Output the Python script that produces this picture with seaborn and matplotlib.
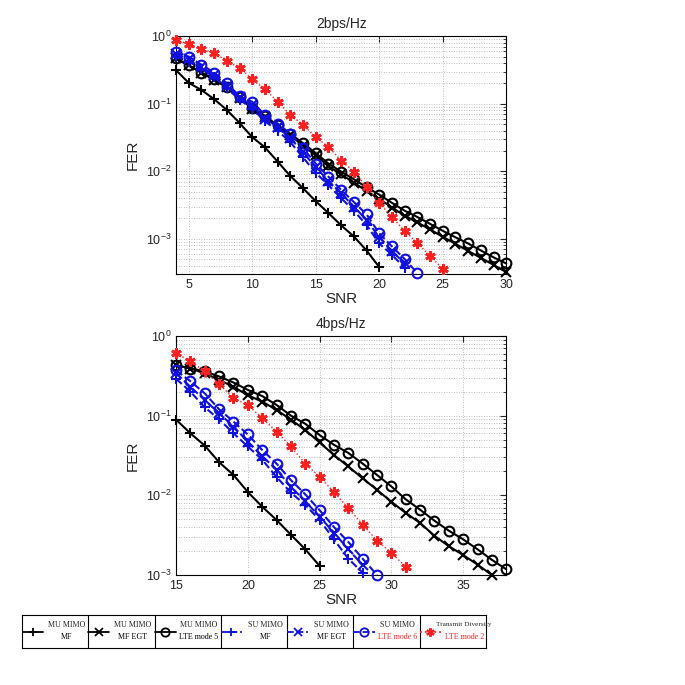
import numpy as np
import pandas as pd
import matplotlib
matplotlib.use("Agg")
import matplotlib.pyplot as plt
import seaborn as sns

# ---- top panel: 2bps/Hz ----
snr_a = list(range(4, 31))
mu_mf_a = [0.315, 0.204, 0.16, 0.117, 0.081, 0.052, 0.032, 0.0226, 0.0139, 0.0085,
           0.0056, 0.0036, 0.0024, 0.00158, 0.00108, 0.00067, 0.00038]
mu_egt_a = [0.47, 0.37, 0.29, 0.225, 0.175, 0.122, 0.085, 0.063, 0.045, 0.034,
            0.024, 0.0172, 0.0119, 0.009, 0.0068, 0.0051, 0.0039, 0.0029, 0.0022,
            0.00175, 0.00137, 0.00107, 0.00084, 0.00066, 0.00052, 0.00041, 0.00032]
mu_lte5_a = [0.47, 0.37, 0.29, 0.23, 0.18, 0.127, 0.088, 0.066, 0.048, 0.036,
             0.026, 0.0186, 0.013, 0.0099, 0.0076, 0.0058, 0.0045, 0.0034, 0.0026,
             0.0021, 0.00166, 0.00131, 0.00105, 0.00085, 0.00067, 0.00053, 0.00043]
su_mf_a = [0.50, 0.42, 0.33, 0.25, 0.17, 0.115, 0.085, 0.055, 0.04, 0.027, 0.016,
           0.0095, 0.0062, 0.0040, 0.0026, 0.0016, 0.00085, 0.00058, 0.00037]
su_egt_a = [0.55, 0.46, 0.35, 0.27, 0.185, 0.125, 0.095, 0.06, 0.045, 0.031, 0.019,
            0.0115, 0.0072, 0.0047, 0.003, 0.0019, 0.00105, 0.00066, 0.00043]
su_lte6_a = [0.59, 0.50, 0.38, 0.29, 0.20, 0.13, 0.107, 0.068, 0.051, 0.036, 0.022,
             0.013, 0.0083, 0.0053, 0.0035, 0.0023, 0.0012, 0.00077, 0.0005, 0.00031]
td_a = [0.89, 0.76, 0.64, 0.57, 0.43, 0.34, 0.23, 0.165, 0.107, 0.068, 0.049, 0.032,
        0.023, 0.0144, 0.0099, 0.0059, 0.0034, 0.0021, 0.0013, 0.00087, 0.00055, 0.00036]

# ---- bottom panel: 4bps/Hz ----
snr_b = list(range(15, 39))
mu_mf_b = [0.089, 0.060, 0.042, 0.026, 0.018, 0.011, 0.0072, 0.0049, 0.0032, 0.0021, 0.0013]
mu_egt_b = [0.43, 0.39, 0.34, 0.28, 0.23, 0.18, 0.15, 0.118, 0.089, 0.066, 0.046, 0.032,
            0.023, 0.0163, 0.0117, 0.0083, 0.006, 0.0045, 0.0031, 0.0023, 0.00178,
            0.00135, 0.001]
mu_lte5_b = [0.43, 0.39, 0.36, 0.31, 0.26, 0.21, 0.176, 0.136, 0.10, 0.079, 0.057, 0.043,
             0.034, 0.025, 0.018, 0.0129, 0.0089, 0.0066, 0.0048, 0.0036, 0.0028, 0.0021,
             0.00155, 0.00118]
su_mf_b = [0.29, 0.20, 0.127, 0.09, 0.06, 0.041, 0.028, 0.017, 0.0108, 0.0076, 0.0049,
           0.0028, 0.0016, 0.00107]
su_egt_b = [0.34, 0.23, 0.157, 0.107, 0.073, 0.047, 0.031, 0.021, 0.0128, 0.0084, 0.0054,
            0.0034, 0.0021, 0.00133]
su_lte6_b = [0.37, 0.27, 0.19, 0.12, 0.084, 0.058, 0.037, 0.025, 0.0155, 0.0103, 0.0065,
             0.004, 0.0026, 0.0016, 0.001]
td_b = [0.61, 0.48, 0.36, 0.25, 0.165, 0.136, 0.093, 0.063, 0.041, 0.025, 0.017, 0.011,
        0.0069, 0.0043, 0.0027, 0.0019, 0.00127]

labels_top = ["MU MIMO", "MU MIMO", "MU MIMO", "SU MIMO", "SU MIMO", "SU MIMO", "Transmit Diversity"]
labels_bot = ["MF", "MF EGT", "LTE mode 5", "MF", "MF EGT", "LTE mode 6", "LTE mode 2"]

asterisk = (6, 2, 0)
styles = [
    dict(color="black", marker="+", linestyle="-"),
    dict(color="black", marker="x", linestyle="-"),
    dict(color="black", marker="o", linestyle="-"),
    dict(color="#1010e0", marker="+", linestyle="--"),
    dict(color="#1010e0", marker="x", linestyle="--"),
    dict(color="#1010e0", marker="o", linestyle="--"),
    dict(color="#ff2020", marker=asterisk, linestyle=":"),
]

sns.set_style("white")
plt.rcParams["font.family"] = ["Liberation Sans", "DejaVu Sans"]

fig = plt.figure(figsize=(6.85, 6.85), dpi=100)
ax1 = fig.add_axes([0.257, 0.600, 0.482, 0.347])
ax2 = fig.add_axes([0.257, 0.1606, 0.482, 0.349])


def draw_panel(ax, snr, series, title, xlim, ylim, xticks):
    for vals, st in zip(series, styles):
        df = pd.DataFrame({"SNR": snr[:len(vals)], "FER": vals})
        is_ast = st["marker"] == asterisk
        sns.lineplot(data=df, x="SNR", y="FER", ax=ax, color=st["color"],
                     marker=st["marker"], linestyle=st["linestyle"],
                     markersize=7.5 if is_ast else 7,
                     markerfacecolor="none" if st["marker"] == "o" else st["color"],
                     markeredgecolor=st["color"], markeredgewidth=2.0 if is_ast else 1.5,
                     linewidth=1.5 if not is_ast else 1.0, estimator=None,
                     clip_on=False, zorder=3)
    ax.set_yscale("log")
    ax.set_xlim(*xlim)
    ax.set_ylim(*ylim)
    ax.set_xticks(xticks)
    ax.set_title(title, fontsize=10)
    ax.set_xlabel("SNR", fontsize=11, labelpad=1)
    ax.set_ylabel("FER", fontsize=11)
    ax.grid(True, which="major", axis="both", linestyle=(0, (1, 2)), color="#a8a8a8", linewidth=0.6)
    ax.grid(True, which="minor", axis="y", linestyle=(0, (1, 2)), color="#a8a8a8", linewidth=0.6)
    ax.set_axisbelow(True)
    ax.tick_params(direction="in", which="both", top=True, right=True, labelsize=9,
                   length=4)
    ax.tick_params(which="minor", length=2)
    for s in ax.spines.values():
        s.set_color("black")
        s.set_linewidth(0.8)
        s.set_zorder(2)
    if ax.get_legend() is not None:
        ax.get_legend().remove()


draw_panel(ax1, snr_a, [mu_mf_a, mu_egt_a, mu_lte5_a, su_mf_a, su_egt_a, su_lte6_a, td_a],
           "2bps/Hz", (4, 30), (3e-4, 1), [5, 10, 15, 20, 25, 30])
draw_panel(ax2, snr_b, [mu_mf_b, mu_egt_b, mu_lte5_b, su_mf_b, su_egt_b, su_lte6_b, td_b],
           "4bps/Hz", (15, 38), (1e-3, 1), [15, 20, 25, 30, 35])

# ---- legend strip ----
lax = fig.add_axes([22 / 685, 1 - 648 / 685, 464 / 685, 33 / 685])
lax.set_xlim(0, 7)
lax.set_ylim(0, 1)
lax.set_xticks([])
lax.set_yticks([])
for s in lax.spines.values():
    s.set_color("black")
    s.set_linewidth(0.8)
serif = ["Liberation Serif", "DejaVu Serif"]
for i, st in enumerate(styles):
    if i > 0:
        lax.axvline(i, color="black", linewidth=0.8)
    is_ast = st["marker"] == asterisk
    lax.plot([i + 0.0, i + 0.32], [0.5, 0.5], color=st["color"], linestyle=st["linestyle"],
             linewidth=1.3)
    lax.plot([i + 0.16], [0.5], color=st["color"], marker=st["marker"], linestyle="none",
             markersize=6,
             markerfacecolor="none" if st["marker"] == "o" else st["color"],
             markeredgewidth=1.6 if is_ast else 1.3)
    second_color = "#ff2020" if i >= 5 else "black"
    fs = 5.2 if i == 6 else 5.8
    lax.text(i + 0.67, 0.70, labels_top[i], ha="center", va="center", fontsize=fs,
             family=serif)
    lax.text(i + 0.67, 0.33, labels_bot[i], ha="center", va="center", fontsize=5.8,
             color=second_color, family=serif)

fig.savefig("out.png", dpi=100)
